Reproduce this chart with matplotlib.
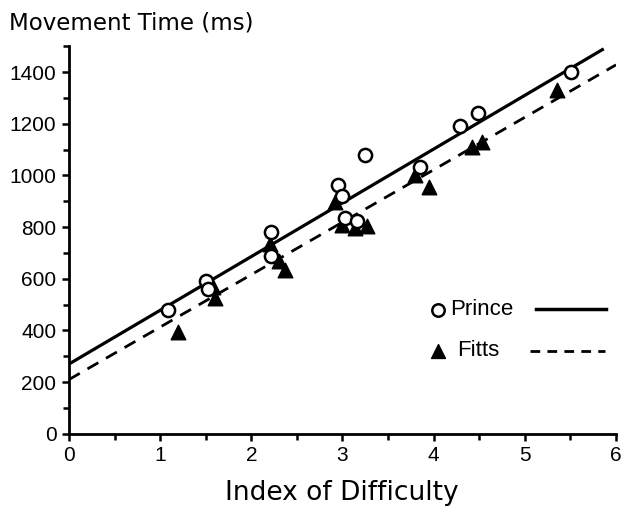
import numpy as np
import matplotlib
matplotlib.use("Agg")
import matplotlib.pyplot as plt
from matplotlib.ticker import MultipleLocator

# data
prince_id = [1.09, 1.50, 1.52, 2.22, 2.22, 2.95, 3.00, 3.03, 3.16, 3.25, 3.85, 4.29, 4.49, 5.51]
prince_mt = [480, 590, 560, 782, 690, 963, 920, 835, 825, 1079, 1034, 1190, 1240, 1401]

fitts_id = [1.20, 1.58, 1.60, 2.20, 2.30, 2.37, 2.92, 3.00, 3.14, 3.27, 3.80, 3.95, 4.42, 4.53, 5.35]
fitts_mt = [395, 570, 525, 735, 670, 635, 898, 808, 795, 805, 1000, 955, 1110, 1128, 1330]

# regression lines: intercept, slope, last ID drawn
prince_fit = (270, 208, 5.85)
fitts_fit = (210, 203, 6.0)

plt.rcParams["font.family"] = ["Liberation Sans", "Roboto", "DejaVu Sans"]
label_font = "DejaVu Sans"

fig = plt.figure(figsize=(6.21, 5.08), dpi=100, facecolor="white")
ax = fig.add_axes([0.111, 0.146, 0.881, 0.763])

# fit lines
xs = np.array([0, prince_fit[2]])
ax.plot(xs, prince_fit[0] + prince_fit[1]*xs, color="black", lw=2.3, zorder=2)
xs = np.array([0, fitts_fit[2]])
ax.plot(xs, fitts_fit[0] + fitts_fit[1]*xs, color="black", lw=2.0,
        dashes=(4.5, 3.2), zorder=2)

# points
ax.scatter(fitts_id, fitts_mt, marker="^", s=110, color="black", zorder=3)
ax.scatter(prince_id, prince_mt, marker="o", s=90, facecolor="white",
           edgecolor="black", linewidths=1.8, zorder=4)

ax.set_xlim(0, 6)
ax.set_ylim(0, 1500)
ax.xaxis.set_major_locator(MultipleLocator(1))
ax.xaxis.set_minor_locator(MultipleLocator(0.5))
ax.yaxis.set_minor_locator(MultipleLocator(100))
ax.set_yticks(np.arange(0, 1401, 200))

for s in ["top", "right"]:
    ax.spines[s].set_visible(False)
for s in ["left", "bottom"]:
    ax.spines[s].set_linewidth(2)

ax.tick_params(which="major", direction="out", length=5, width=1.8,
               labelsize=15, pad=4)
ax.tick_params(which="minor", direction="out", length=4, width=1.8)

fig.text(0.55, 0.03, "Index of Difficulty", fontsize=19, family=label_font,
         ha="center", va="center")
fig.text(0.015, 0.955, "Movement Time (ms)", fontsize=16.5, family=label_font,
         ha="left", va="center")

# hand-made legend: marker, name, line sample
tr = ax.transAxes
ax.scatter([0.675], [0.32], marker="o", s=80, facecolor="white",
           edgecolor="black", linewidths=1.8, transform=tr, clip_on=False)
ax.text(0.697, 0.32, "Prince", transform=tr, fontsize=16,
        va="center", ha="left")
ax.plot([0.854, 0.982], [0.322, 0.322], color="black", lw=2.5, transform=tr,
        clip_on=False)
ax.scatter([0.675], [0.214], marker="^", s=100, color="black", transform=tr,
           clip_on=False)
ax.text(0.709, 0.214, "Fitts", transform=tr, fontsize=16,
        va="center", ha="left")
ax.plot([0.843, 0.98], [0.214, 0.214], color="black", lw=2.0, dashes=(3.5, 2.6),
        transform=tr, clip_on=False)

fig.savefig("out.png", dpi=100)
